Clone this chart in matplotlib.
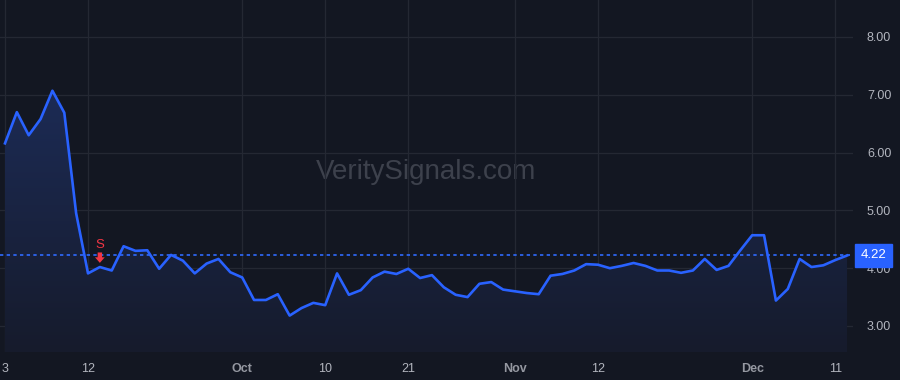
import matplotlib
matplotlib.use("Agg")
import matplotlib.pyplot as plt
import matplotlib.transforms as mtransforms
from matplotlib.colors import LinearSegmentedColormap
import numpy as np
import pandas as pd

# trading days, Sep 3 - Dec 12 2024 (Thanksgiving closed)
dates = pd.bdate_range("2024-09-03", "2024-12-12", freq="C", holidays=["2024-11-28"])

prices = [
    6.16, 6.70, 6.30, 6.58, 7.07, 6.69, 4.95, 3.91, 4.02, 3.96,
    4.38, 4.30, 4.31, 3.99, 4.23, 4.13, 3.91, 4.08, 4.16, 3.93,
    3.84, 3.45, 3.45, 3.55, 3.18, 3.31, 3.40, 3.36, 3.91, 3.54,
    3.62, 3.84, 3.94, 3.90, 3.99, 3.83, 3.88, 3.67, 3.54, 3.50,
    3.73, 3.76, 3.63, 3.60, 3.57, 3.55, 3.87, 3.90, 3.96, 4.07,
    4.06, 4.00, 4.04, 4.09, 4.04, 3.96, 3.96, 3.92, 3.96, 4.16,
    3.97, 4.04, 4.31, 4.57, 4.57, 3.44, 3.64, 4.16, 4.02, 4.05,
    4.14, 4.22,
]

tick_dates = ["2024-09-03", "2024-09-12", "2024-10-01", "2024-10-10", "2024-10-21",
              "2024-11-01", "2024-11-12", "2024-12-02", "2024-12-11"]
tick_labels = ["3", "12", "Oct", "10", "21", "Nov", "12", "Dec", "11"]
month_labels = ["Oct", "Nov", "Dec"]

y_ticks = [3, 4, 5, 6, 7, 8]
last_price = 4.22
signal_date = "2024-09-13"
signal_label = "S"

BG = "#131722"
GRID = "#242833"
LINE = "#2962ff"
TXT = "#b2b5be"
RED = "#f23645"

plt.rcParams["font.family"] = ["Liberation Sans", "DejaVu Sans"]

fig = plt.figure(figsize=(9, 3.8), dpi=100, facecolor=BG)
ax = fig.add_axes([0, 28 / 380, 853 / 900, 352 / 380])
ax.set_facecolor(BG)

x = np.arange(len(dates))
y = np.array(prices)

ax.set_xlim(-0.42, 71.5)
ax.set_ylim(2.55, 8.64)

# gradient fill under the line
poly = ax.fill_between(x, y, 2.55, facecolor="none", edgecolor="none")
grad = np.linspace(0, 1, 256).reshape(-1, 1)
cmap = LinearSegmentedColormap.from_list("g", ["#161b2c", "#1c2b55"])
img = ax.imshow(grad, cmap=cmap, aspect="auto", origin="lower",
                extent=[x[0], x[-1], 2.55, max(prices)], zorder=1)
img.set_clip_path(poly.get_paths()[0], transform=ax.transData)

ax.plot(x, y, color=LINE, lw=1.9, zorder=3)

# last price line + label
ax.axhline(last_price, color="#2f6bff", lw=1.2, ls=(0, (2, 2)), zorder=2)
trans = mtransforms.blended_transform_factory(ax.transAxes, ax.transData)
ax.text(1.0085, last_price, f"{last_price:.2f}", transform=trans, ha="left", va="center",
        color="white", fontsize=9.5, clip_on=False, zorder=5,
        bbox=dict(boxstyle="square,pad=0.42", facecolor=LINE, edgecolor=LINE))

# signal marker
si = list(dates).index(pd.Timestamp(signal_date))
ax.annotate("", xy=(x[si], y[si]), xytext=(0, 10.5), textcoords="offset points",
            arrowprops=dict(arrowstyle="simple,head_width=0.7,head_length=0.4,tail_width=0.32",
                            mutation_scale=10, color=RED, lw=0, shrinkA=0, shrinkB=3),
            zorder=5)
ax.annotate(signal_label, xy=(x[si], y[si]), xytext=(0, 11.5), textcoords="offset points",
            ha="center", va="bottom", color=RED, fontsize=9.5, zorder=5)

# watermark
ax.text(0.5, 0.51, "VeritySignals.com", transform=ax.transAxes, ha="center", va="center",
        color="#3d414c", fontsize=20, zorder=0.5)

# ticks
tick_pos = [list(dates).index(pd.Timestamp(d)) for d in tick_dates]
ax.set_xticks(tick_pos)
ax.set_xticklabels(tick_labels)
ax.set_yticks(y_ticks)
ax.set_yticklabels([f"{v:.2f}" for v in y_ticks])
ax.yaxis.tick_right()
ax.tick_params(axis="x", length=0, pad=8, colors=TXT, labelsize=9)
ax.tick_params(axis="y", length=0, pad=10, colors=TXT, labelsize=9)
for lab in ax.get_xticklabels():
    if lab.get_text() in month_labels:
        lab.set_fontweight("bold")
        lab.set_color("#9598a1")

ax.grid(True, color=GRID, lw=0.9, zorder=0)
ax.set_axisbelow(True)
for s in ax.spines.values():
    s.set_visible(False)

fig.savefig("out.png", dpi=100, facecolor=BG)
